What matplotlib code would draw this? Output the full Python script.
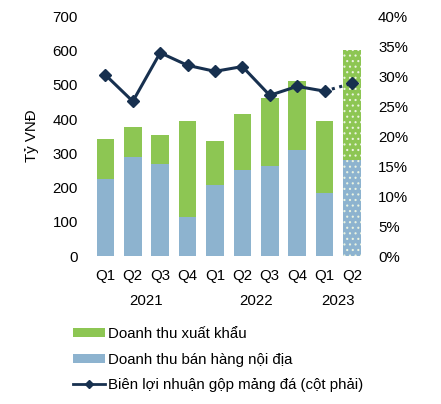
import matplotlib
matplotlib.use("Agg")
import matplotlib.pyplot as plt
from matplotlib.patches import Patch
from matplotlib.lines import Line2D
import matplotlib.transforms as mtransforms

plt.rcParams['font.family'] = ['Liberation Sans', 'DejaVu Sans']
plt.rcParams['hatch.linewidth'] = 0.8

quarters = ["Q1", "Q2", "Q3", "Q4", "Q1", "Q2", "Q3", "Q4", "Q1", "Q2"]
years = ["2021", "2022", "2023"]
year_spans = [(0, 3), (4, 7), (8, 9)]
domestic = [226, 289, 270, 113, 207, 252, 262, 309, 183, 280]
total = [343, 376, 354, 394, 335, 416, 460, 511, 394, 602]
export = [t - d for t, d in zip(total, domestic)]
margin = [30.2, 25.8, 33.9, 31.8, 30.8, 31.6, 26.8, 28.3, 27.5, 28.8]

green = "#8DC653"
blue = "#8DB3CF"
navy = "#17304F"
fs = 10.8

fig = plt.figure(figsize=(4.41, 4.04), dpi=100)
ax = fig.add_axes([0.208, 0.366, 0.621, 0.594])
x = list(range(len(quarters)))
w = 0.64
n = len(quarters)
for i in x:
    hatch = '...' if i == n - 1 else None
    ec = '#EAF3E0' if hatch else 'none'
    ax.bar(i, domestic[i], width=w, color=blue, edgecolor=ec, linewidth=0, hatch=hatch)
    ax.bar(i, export[i], bottom=domestic[i], width=w, color=green, edgecolor=ec, linewidth=0, hatch=hatch)

ax.set_xlim(-0.5, n - 0.5)
ax.set_ylim(0, 700)
ax.set_yticks(range(0, 701, 100))
ax.set_xticks(x)
ax.set_xticklabels(quarters)
for s in ax.spines.values():
    s.set_visible(False)
ax.tick_params(axis='both', length=0, labelsize=fs, colors='black')
ax.tick_params(axis='y', pad=10)
ax.tick_params(axis='x', pad=9)
ax.set_ylabel("Tỷ VNĐ", fontsize=fs, labelpad=10)

ax2 = ax.twinx()
ax2.set_ylim(0, 40)
ax2.set_yticks(range(0, 41, 5))
ax2.set_yticklabels([f"{v}%" for v in range(0, 41, 5)])
for s in ax2.spines.values():
    s.set_visible(False)
ax2.tick_params(axis='y', length=0, labelsize=fs, pad=9)
ax2.plot(x[:n - 1], margin[:n - 1], color=navy, linewidth=2.2, marker='D', markersize=6.5)
ax2.plot(x[n - 2:], margin[n - 2:], color=navy, linewidth=2.2, linestyle=(0, (1, 1.5)))
ax2.plot(x[n - 1:], margin[n - 1:], color=navy, linestyle='none', marker='D', markersize=6.5)

trans = mtransforms.blended_transform_factory(ax.transData, fig.transFigure)
for yr, (a, b) in zip(years, year_spans):
    fig.text((a + b) / 2, 1 - 301 / 404, yr, transform=trans, ha='center', va='center', fontsize=fs)

handles = [Patch(facecolor=green, edgecolor='none'),
           Patch(facecolor=blue, edgecolor='none'),
           Line2D([0], [0], color=navy, linewidth=2, marker='D', markersize=4)]
labels = ["Doanh thu xuất khẩu", "Doanh thu bán hàng nội địa", "Biên lợi nhuận gộp mảng đá (cột phải)"]
fig.legend(handles, labels, loc='upper left', bbox_to_anchor=(0.1655, 1 - 327 / 404),
           frameon=False, fontsize=fs, handlelength=2.15, handleheight=0.55,
           handletextpad=0.2, labelspacing=0.78, borderaxespad=0, borderpad=0)

fig.savefig("out.png", dpi=100)
